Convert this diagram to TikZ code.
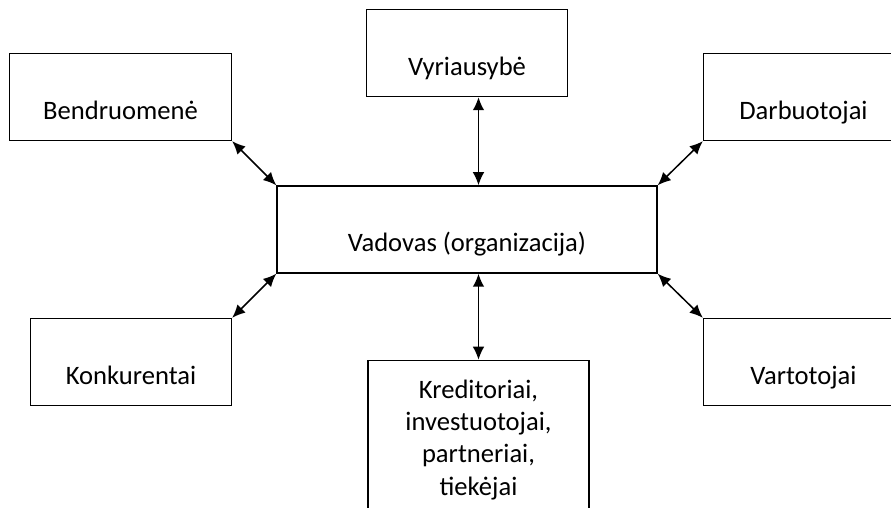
\documentclass[tikz,border=0pt]{standalone}
\usepackage{fontspec}
\setmainfont{Carlito}
\usetikzlibrary{arrows.meta, positioning}

\begin{document}
\begin{tikzpicture}[x=0.5pt, y=-0.5pt,
    every node/.style={font=\fontsize{13.3}{16.2}\selectfont},
    party/.style={rectangle, draw=black, line width=0.75pt, fill=white, inner xsep=0pt, inner ysep=0pt, text height=33pt, text depth=10.5pt},
    lead/.style={party, minimum width=190pt},
    multi/.style={rectangle, draw=black, line width=0.75pt, fill=white, align=center, minimum width=110.5pt, inner ysep=9.6pt},
    link/.style={line width=0.75pt, {Latex[length=6.5pt,width=5.8pt]}-{Latex[length=6.5pt,width=5.8pt]}}
]

% Frame (page size of the reference)
\useasboundingbox (0,0) rectangle (891,508);
\fill[white] (0,0) rectangle (891,508);
\clip (0,0) rectangle (891,508);

% Nodes
\node[lead] (manager) at (467,229.5) {Vadovas (organizacija)};
\node[party, minimum width=111pt, above left=22pt and 22pt of manager.north west] (community) {Bendruomenė};
\node[party, minimum width=100.5pt, above=44pt of manager] (government) {Vyriausybė};
\node[party, minimum width=100pt, above right=22pt and 22.5pt of manager.north east] (staff) {Darbuotojai};
\node[party, minimum width=100.5pt, below left=22pt and 22pt of manager.south west] (rivals) {Konkurentai};
\node[party, minimum width=100pt, below right=22pt and 22.5pt of manager.south east] (customers) {Vartotojai};
\node[multi, below=43pt of manager.south, xshift=5.75pt] (creditors) {Kreditoriai,\\investuotojai,\\partneriai,\\tiekėjai};

% Two-way arrows
\draw[link] (community.south east) -- (manager.north west);
\draw[link] (creditors.north |- government.south) -- (creditors.north |- manager.north);
\draw[link] (staff.south west) -- (manager.north east);
\draw[link] (rivals.north east) -- (manager.south west);
\draw[link] (creditors.north) -- (creditors.north |- manager.south);
\draw[link] (customers.north west) -- (manager.south east);

\end{tikzpicture}
\end{document}
